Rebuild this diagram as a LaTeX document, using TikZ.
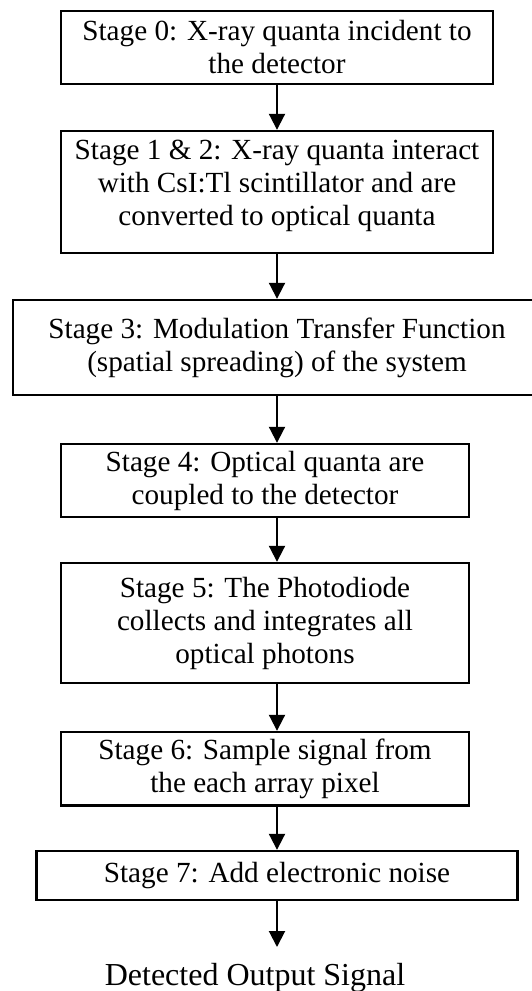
\documentclass[tikz,border=0pt]{standalone}
\usepackage{fontspec}
\setmainfont{Liberation Serif}
\usetikzlibrary{arrows.meta}
\tikzset{
  stagebox/.style={draw=black, line width=2.4pt, rectangle, align=center, inner sep=0pt,
    font=\fontsize{29.2}{33}\selectfont},
  arr/.style={line width=2pt, -{Triangle[width=16pt,length=16pt]}},
}
\begin{document}
\begin{tikzpicture}[x=1pt,y=-1pt]
\useasboundingbox (0,0) rectangle (531,991);
\node[stagebox, minimum width=432pt, minimum height=73pt] (B0) at (277,47.5)
  {Stage 0: X-ray quanta incident to\\the detector};
\node[stagebox, minimum width=432pt, minimum height=122pt, text depth=18pt] (B1) at (277,192)
  {Stage 1 \& 2: X-ray quanta interact\\with CsI:Tl scintillator and are\\converted to optical quanta};
\node[stagebox, minimum width=528pt, minimum height=95pt] (B2) at (277,347.5)
  {Stage 3: Modulation Transfer Function\\(spatial spreading) of the system};
\node[stagebox, minimum width=408pt, minimum height=73pt] (B3) at (265,480.5)
  {Stage 4: Optical quanta are\\coupled to the detector};
\node[stagebox, minimum width=408pt, minimum height=120pt] (B4) at (265,623)
  {Stage 5: The Photodiode\\collects and integrates all\\optical photons};
\node[stagebox, minimum width=408pt, minimum height=73.5pt] (B5) at (265,768.75)
  {Stage 6: Sample signal from\\the each array pixel};
\node[stagebox, minimum width=481pt, minimum height=49pt] (B6) at (277,875.5)
  {Stage 7: Add electronic noise};
\node[anchor=base, inner sep=0pt, font=\fontsize{32}{36}\selectfont] (OUT) at (255,985)
  {Detected Output Signal};
\coordinate (tip) at (277,947);
\draw[arr] (B0.south) -- (B1.north);
\draw[arr] (B1.south) -- (B2.north);
\draw[arr] (B2.south) -- (B2.south |- B3.north);
\draw[arr] (B3.south -| B0.south) -- (B4.north -| B0.south);
\draw[arr] (B4.south -| B0.south) -- (B5.north -| B0.south);
\draw[arr] (B5.south -| B0.south) -- (B6.north);
\draw[arr] (B6.south) -- (tip);
\end{tikzpicture}
\end{document}
